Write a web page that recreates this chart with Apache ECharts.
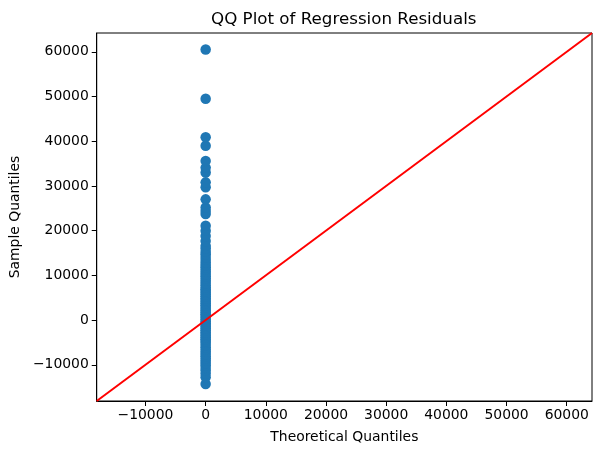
<!DOCTYPE html>
<html>
<head>
<meta charset="utf-8">
<script src="https://cdn.jsdelivr.net/npm/echarts@6/dist/echarts.min.js"></script>
<style>
html,body{margin:0;padding:0;background:#fff;}
#chart{width:600px;height:455px;}
</style>
</head>
<body>
<div id="chart"></div>
<script>
// Sample quantiles (sorted residuals)
var sampleQuantiles = [
  -14300, -12800, -12000, -11300, -10700, -10100, -9600, -9100, -8600, -8100,
  -7600, -7100, -6600, -6100, -5600, -5100, -4700, -4300, -3900, -3500,
  -3100, -2700, -2300, -1900, -1500, -1100, -700, -300, 100, 500,
  900, 1300, 1700, 2100, 2500, 2900, 3300, 3700, 4100, 4500,
  4900, 5300, 5700, 6100, 6500, 6900, 7300, 7800, 8300, 8800,
  9300, 9800, 10300, 10800, 11300, 11800, 12300, 12900, 13500, 14100,
  14700, 15300, 16000, 16600, 17700, 18800, 20000, 21100, 23700, 24400,
  25200, 27000, 29700, 30800, 33000, 34100, 35600, 39000, 40900, 49500,
  60500
];
// Theoretical (standard normal) quantiles for each point
var theoreticalQuantiles = [
  -2.50, -2.09, -1.87, -1.71, -1.59, -1.49, -1.40, -1.32, -1.25, -1.19,
  -1.13, -1.07, -1.02, -0.97, -0.92, -0.87, -0.83, -0.79, -0.74, -0.70,
  -0.66, -0.63, -0.59, -0.55, -0.52, -0.48, -0.45, -0.41, -0.38, -0.35,
  -0.31, -0.28, -0.25, -0.22, -0.19, -0.16, -0.12, -0.09, -0.06, -0.03,
  0.00, 0.03, 0.06, 0.09, 0.12, 0.16, 0.19, 0.22, 0.25, 0.28,
  0.31, 0.35, 0.38, 0.41, 0.45, 0.48, 0.52, 0.55, 0.59, 0.63,
  0.66, 0.70, 0.74, 0.79, 0.83, 0.87, 0.92, 0.97, 1.02, 1.07,
  1.13, 1.19, 1.25, 1.32, 1.40, 1.49, 1.59, 1.71, 1.87, 2.09,
  2.50
];
// 45-degree reference line end points
var lineEnds = [-18100, 64200];
// Axis limits and tick values
var axisMin = -18100, axisMax = 64200;
var xTicks = [-10000, 0, 10000, 20000, 30000, 40000, 50000, 60000];
var yTicks = [-10000, 0, 10000, 20000, 30000, 40000, 50000, 60000];

var points = theoreticalQuantiles.map(function(t, i){ return [t, sampleQuantiles[i]]; });
var lineData = lineEnds.map(function(v){ return [v, v]; });

function fmt(v){ return v < 0 ? '\u2212' + Math.abs(v) : String(v); }

var FONT = 'DejaVu Sans';
var chart = echarts.init(document.getElementById('chart'), null, {renderer:'canvas'});
chart.setOption({
  animation: false,
  backgroundColor: '#ffffff',
  title: {
    text: 'QQ Plot of Regression Residuals',
    left: 206, top: 6,
    textStyle: {fontFamily: FONT, fontSize: 16.7, fontWeight: 'normal', color: '#000'}
  },
  grid: {left: 95, right: 8, top: 33, bottom: 54, show: true, borderColor: '#000', borderWidth: 1, backgroundColor: 'transparent'},
  xAxis: {
    type: 'value', min: axisMin, max: axisMax,
    name: 'Theoretical Quantiles', nameLocation: 'middle', nameGap: 29,
    nameTextStyle: {fontFamily: FONT, fontSize: 13.9, color: '#000'},
    axisLine: {show: true, onZero: false, lineStyle: {color: '#000', width: 1}},
    axisTick: {show: true, length: 5, lineStyle: {color: '#000'}, customValues: xTicks},
    axisLabel: {fontFamily: FONT, fontSize: 13.9, color: '#000', margin: 7, formatter: fmt, customValues: xTicks},
    splitLine: {show: false}
  },
  yAxis: {
    type: 'value', min: axisMin, max: axisMax,
    name: 'Sample Quantiles', nameLocation: 'middle', nameGap: 72,
    nameTextStyle: {fontFamily: FONT, fontSize: 13.9, color: '#000'},
    axisLine: {show: true, onZero: false, lineStyle: {color: '#000', width: 1}},
    axisTick: {show: true, length: 5, lineStyle: {color: '#000'}, customValues: yTicks},
    axisLabel: {fontFamily: FONT, fontSize: 13.9, color: '#000', margin: 8, formatter: fmt, customValues: yTicks},
    splitLine: {show: false}
  },
  series: [
    {
      type: 'scatter', data: points, symbol: 'circle', symbolSize: 10.5,
      itemStyle: {color: '#1f77b4', opacity: 1}, z: 2
    },
    {
      type: 'line', data: lineData, symbol: 'none', clip: true,
      lineStyle: {color: '#ff0000', width: 2}, z: 3
    }
  ]
});
</script>
</body>
</html>
